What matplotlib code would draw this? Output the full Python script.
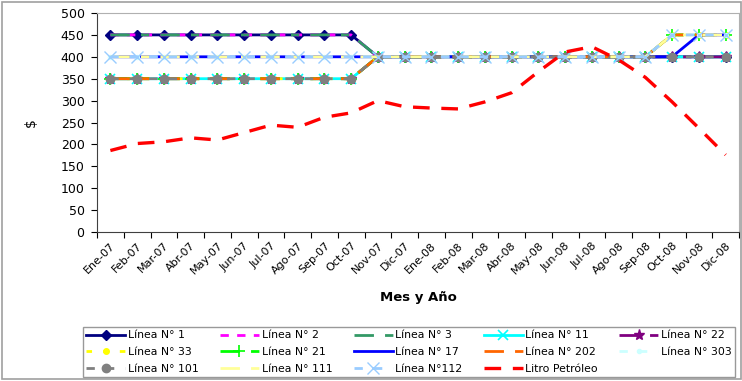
import matplotlib
matplotlib.use("Agg")
import matplotlib.pyplot as plt
from matplotlib.patches import Rectangle

plt.rcParams['font.family'] = ['DejaVu Sans']

months = ["Ene-07", "Feb-07", "Mar-07", "Abr-07", "May-07", "Jun-07", "Jul-07", "Ago-07",
          "Sep-07", "Oct-07", "Nov-07", "Dic-07", "Ene-08", "Feb-08", "Mar-08", "Abr-08",
          "May-08", "Jun-08", "Jul-08", "Ago-08", "Sep-08", "Oct-08", "Nov-08", "Dic-08"]

linea_1 = [450] * 10 + [400] * 14
linea_2 = [450] * 10 + [400] * 14
linea_3 = [450] * 10 + [400] * 14
linea_11 = [350] * 10 + [400] * 14
linea_22 = [350] * 10 + [400] * 14
linea_33 = [350] * 10 + [400] * 11 + [450] * 3
linea_21 = [350] * 10 + [400] * 11 + [450] * 3
linea_17 = [400] * 22 + [450] * 2
linea_202 = [350] * 10 + [400] * 11 + [450] * 3
linea_303 = [400] * 21 + [450] * 3
linea_101 = [350] * 10 + [400] * 14
linea_111 = [400] * 21 + [450] * 3
linea_112 = [400] * 21 + [450] * 3
litro_petroleo = [186, 202, 206, 215, 210, 227, 244, 239, 262, 272, 300, 286,
                  283, 281, 297, 318, 366, 411, 423, 393, 353, 297, 237, 176]

y_ticks = [0, 50, 100, 150, 200, 250, 300, 350, 400, 450, 500]

W, H = 742, 381
fig = plt.figure(figsize=(W / 100, H / 100), dpi=100)
ax = fig.add_axes([97 / W, 1 - 232 / H, (739 - 97) / W, (232 - 13) / H])

x = list(range(len(months)))

series = [
    ("Línea N°1", linea_1, dict(color="#000080", ls="-", marker="D", ms=5, lw=2)),
    ("Línea N°2", linea_2, dict(color="#FF00FF", ls=(0, (3, 3)), lw=2)),
    ("Línea N°3", linea_3, dict(color="#339966", ls=(0, (7, 4, 3, 4)), lw=2)),
    ("Línea N°11", linea_11, dict(color="#00FFFF", ls="-", marker="x", ms=7, mew=1.2, lw=2)),
    ("Línea N°22", linea_22, dict(color="#800080", ls=(0, (7, 4, 3, 4)), marker="*", ms=8, mew=1, lw=2)),
    ("Línea N°33", linea_33, dict(color="#FFFF00", ls=(0, (2, 4)), marker="o", ms=4, lw=2)),
    ("Línea N°21", linea_21, dict(color="#00FF00", ls=(0, (7, 4, 3, 4)), marker="+", ms=8, mew=1.2, lw=2)),
    ("Línea N°17", linea_17, dict(color="#0000FF", ls="-", lw=2)),
    ("Línea N°202", linea_202, dict(color="#FF6600", ls=(0, (7, 4, 3, 4)), lw=2)),
    ("Línea N°303", linea_303, dict(color="#CCFFFF", ls=(0, (3, 4)), marker="o", ms=3, lw=2)),
    ("Línea N°101", linea_101, dict(color="#808080", ls=(0, (3, 4)), marker="o", ms=6, lw=2)),
    ("Línea N°111", linea_111, dict(color="#FFFF99", ls=(0, (7, 4, 3, 4)), lw=2)),
    ("Línea N°112", linea_112, dict(color="#99CCFF", ls=(0, (3, 4)), marker="x", ms=8, mew=1, lw=2)),
    ("Litro Petróleo", litro_petroleo, dict(color="#FF0000", ls=(0, (5, 3.5)), lw=2.4)),
]

handles = {}
for name, vals, kw in series:
    h, = ax.plot(x, vals, label=name, **kw)
    handles[name] = h

ax.set_xlim(-0.5, len(months) - 0.5)
ax.set_ylim(0, 500)
ax.set_yticks(y_ticks)
ax.tick_params(axis="y", labelsize=9, length=4, direction="out", pad=5)
ax.set_xticks([i - 0.5 for i in range(len(months) + 1)])
ax.set_xticklabels([])
ax.set_xticks(x, minor=True)
ax.set_xticklabels(months, minor=True, rotation=45, ha="right", va="top",
                   rotation_mode="anchor", fontsize=8)
ax.tick_params(axis="x", which="major", length=4, direction="out")
ax.tick_params(axis="x", which="minor", length=0, pad=6)

for s in ["left", "bottom"]:
    ax.spines[s].set_color("#404040")
for s in ["top", "right"]:
    ax.spines[s].set_color("#B0B0B0")

ax.set_ylabel("$", fontsize=10)
ax.yaxis.set_label_coords(-0.092, 0.5)
ax.set_xlabel("Mes y Año", fontsize=9.5, fontweight="bold")
ax.xaxis.set_label_coords(0.5, -0.27)

order = ["Línea N°1", "Línea N°33", "Línea N°101",
         "Línea N°2", "Línea N°21", "Línea N°111",
         "Línea N°3", "Línea N°17", "Línea N°112",
         "Línea N°11", "Línea N°202", "Litro Petróleo",
         "Línea N°22", "Línea N°303"]
labels_disp = {n: (n.replace("N°", "N° ") if n != "Línea N°112" else n) for n in order}
leg = fig.legend([handles[n] for n in order], [labels_disp[n] for n in order],
                 ncol=5, loc="lower left", mode="expand",
                 bbox_to_anchor=(83 / W, 1 - 377 / H, (735 - 83) / W, (377 - 323) / H),
                 bbox_transform=fig.transFigure, fontsize=7.8, frameon=True,
                 fancybox=False, edgecolor="#808080", handlelength=3.6,
                 handletextpad=0.25, borderpad=0.3, labelspacing=0.62, columnspacing=0.8,
                 borderaxespad=0)
leg.get_frame().set_linewidth(1)

fig.patches.append(Rectangle((2 / W, 2 / H), (739) / W, (377) / H, transform=fig.transFigure,
                             fill=False, edgecolor="#A0A0A0", lw=1.2))

fig.savefig("out.png", dpi=100)
